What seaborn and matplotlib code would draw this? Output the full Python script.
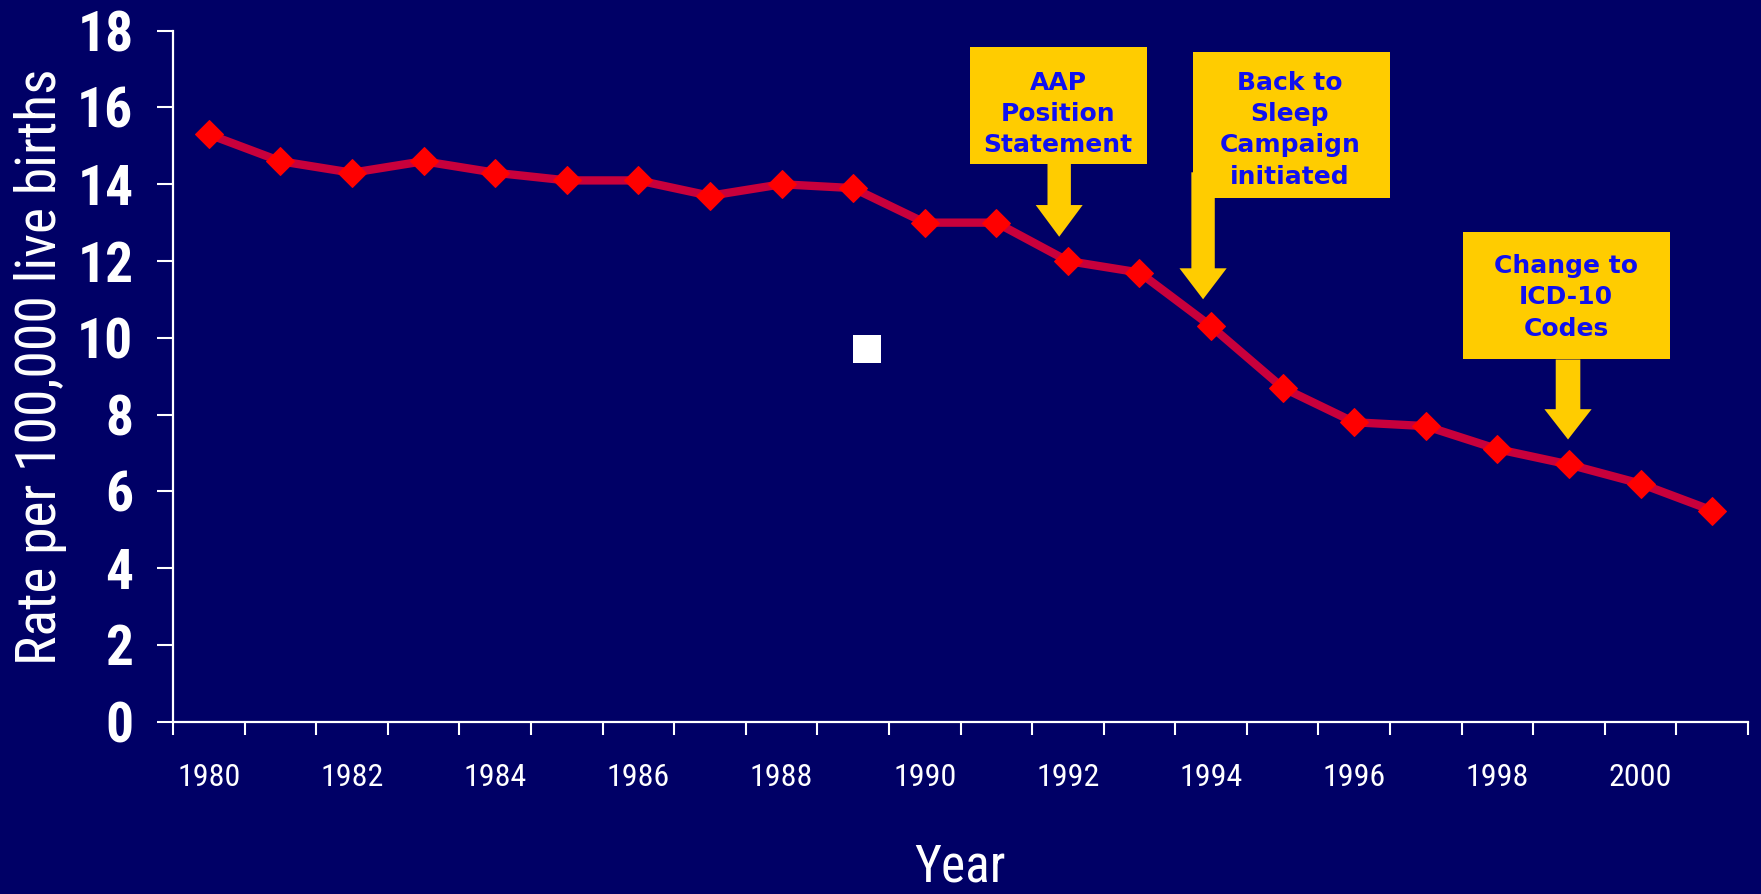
import numpy as np
import pandas as pd
import matplotlib
matplotlib.use("Agg")
import matplotlib.pyplot as plt
import matplotlib.font_manager as fm
import matplotlib.transforms as mtransforms
from matplotlib.patches import Polygon, Rectangle
import seaborn as sns

# ---- data -------------------------------------------------------------
years = [1980, 1981, 1982, 1983, 1984, 1985, 1986, 1987, 1988, 1989, 1990,
         1991, 1992, 1993, 1994, 1995, 1996, 1997, 1998, 1999, 2000, 2001]
rates = [15.3, 14.6, 14.3, 14.6, 14.3, 14.1, 14.1, 13.7, 14.0, 13.9, 13.0,
         13.0, 12.0, 11.7, 10.3, 8.7, 7.8, 7.7, 7.1, 6.7, 6.2, 5.5]
tick_years = list(range(1980, 2001, 2))
y_ticks = list(range(0, 19, 2))

# milestones: (year pointed at, label)
event_years = [1992, 1994, 1999]
event_labels = ["AAP\nPosition\nStatement",
                "Back to\nSleep\nCampaign\ninitiated",
                "Change to\nICD-10\nCodes"]

# lone square marker left over in the plot area
stray_x = [1989.2]
stray_y = [9.7]

# ---- colours / fonts --------------------------------------------------
BG = "#000066"
LINE = "#C8003C"
MARK = "#FF0000"
BOX = "#FFCC00"
TXT = "#1010F0"

sns.set_theme(style="ticks")

names = {f.name for f in fm.fontManager.ttflist}
narrow = None
for cand in ["Liberation Sans Narrow", "Roboto Condensed", "Open Sans Condensed",
             "Arial Narrow"]:
    if cand in names:
        narrow = cand
        break
if narrow is None:
    narrow = "Liberation Sans"
plt.rcParams["font.family"] = [narrow, "DejaVu Sans"]

fig = plt.figure(figsize=(17.61, 8.94), dpi=100, facecolor=BG)
ax = fig.add_axes([173 / 1761, 1 - 721.7 / 894, (1748 - 173) / 1761,
                   (721.7 - 30.7) / 894])
ax.set_facecolor(BG)

df = pd.DataFrame({"Year": years, "Rate": rates})
sns.lineplot(data=df, x="Year", y="Rate", ax=ax, color=LINE, linewidth=6,
             marker="D", markersize=14, markerfacecolor=MARK,
             markeredgecolor=MARK, zorder=3)
ax.plot(stray_x, stray_y, linestyle="none", marker="s", markersize=20,
        color="white", markeredgewidth=0, zorder=3)

ax.set_xlim(years[0] - 0.5, years[-1] + 0.5)
ax.set_ylim(0, 18)

# spines
for s in ["top", "right"]:
    ax.spines[s].set_visible(False)
for s in ["left", "bottom"]:
    ax.spines[s].set_color("white")
    ax.spines[s].set_linewidth(1.6)

# y axis
ax.set_yticks(y_ticks)
ax.set_yticklabels([str(v) for v in y_ticks], fontsize=40, fontweight="bold",
                   color="white")
ax.tick_params(axis="y", length=11.5, width=1.5, color="white", pad=17)

# x axis: labels at every other year, tick marks at category edges
ax.set_xticks(tick_years)
ax.set_xticklabels([str(v) for v in tick_years], fontsize=23, color="white")
ax.tick_params(axis="x", which="major", length=0, pad=30)
ax.set_xticks(np.arange(years[0] - 0.5, years[-1] + 1.0, 1.0), minor=True)
ax.tick_params(axis="x", which="minor", length=9.5, width=1.5, color="white")

ax.set_xlabel("Year", fontsize=37, color="white")
ax.xaxis.set_label_coords(0.5, -0.175)
ax.set_ylabel("Rate per 100,000 live births", fontsize=40, color="white")
ax.yaxis.set_label_coords(-0.067, 0.513)

# ---- milestone call-outs (pixel geometry relative to the arrow tip) -----
# each: tip offset above point, box (left, right, bottom, top) relative to tip,
# shaft half-width, head half-width, head length, shaft top above tip,
# text centre relative to tip
callouts = [
    dict(tip=(-8.7, 24.3), box=(-89, 87.7, 73, 189.7), sw=11.7, hw=23.5,
         hl=31.7, st=73, txt=(-1.3, 122.7)),
    dict(tip=(-8.0, 27.0), box=(-10, 186.7, 101.3, 247), sw=11.7, hw=23.6,
         hl=31.0, st=127, txt=(86.8, 169.5)),
    dict(tip=(-1.0, 25.0), box=(-105, 101.7, 80, 207), sw=12.3, hw=23.6,
         hl=30.3, st=80, txt=(-1.8, 142.3)),
]
px = fig.dpi / 100.0
for yr, label, c in zip(event_years, event_labels, callouts):
    val = rates[years.index(yr)]
    anchor = mtransforms.ScaledTranslation(yr, val, ax.transData)
    tx, ty = c["tip"]
    tr = mtransforms.Affine2D().scale(px).translate(tx * px, ty * px) + anchor
    sw, hw, hl, st = c["sw"], c["hw"], c["hl"], c["st"]
    arrow = Polygon([(0, 0), (-hw, hl), (-sw, hl), (-sw, st), (sw, st),
                     (sw, hl), (hw, hl)], closed=True, facecolor=BOX,
                    edgecolor="none", transform=tr, zorder=4, clip_on=False)
    ax.add_patch(arrow)
    l, r, b, t = c["box"]
    rect = Rectangle((l, b), r - l, t - b, facecolor=BOX, edgecolor="none",
                     transform=tr, zorder=5, clip_on=False)
    ax.add_patch(rect)
    ax.text(c["txt"][0], c["txt"][1], label, transform=tr, ha="center",
            va="center", fontsize=18, fontweight="bold", color=TXT,
            family=["DejaVu Sans"], linespacing=1.39, zorder=6)

fig.savefig("out.png", dpi=100, facecolor=BG)
